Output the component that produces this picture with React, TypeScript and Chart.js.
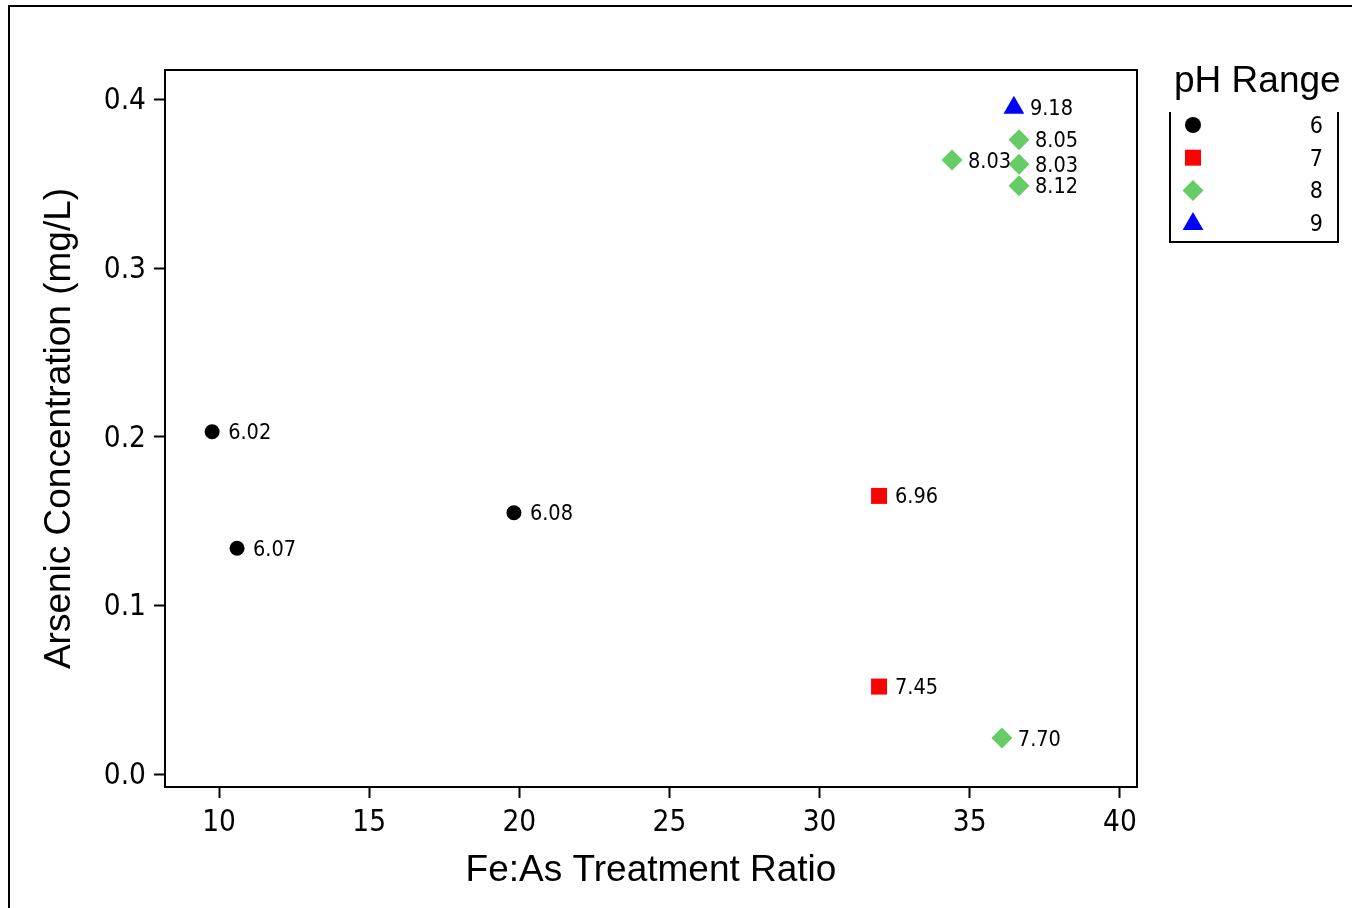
import React, { useEffect, useRef } from 'react';
import { Chart, registerables } from 'chart.js';

Chart.register(...registerables);

// Fe:As treatment ratio vs. residual arsenic, grouped by pH range
const ph6Ratio = [9.77, 10.6, 19.82];
const ph6Arsenic = [0.203, 0.134, 0.155];
const ph6Labels = ['6.02', '6.07', '6.08'];

const ph7Ratio = [31.98, 31.98];
const ph7Arsenic = [0.165, 0.052];
const ph7Labels = ['6.96', '7.45'];

const ph8Ratio = [36.64, 34.41, 36.64, 36.64, 36.07];
const ph8Arsenic = [0.376, 0.364, 0.3616, 0.3488, 0.0215];
const ph8Labels = ['8.05', '8.03', '8.03', '8.12', '7.70'];

const ph9Ratio = [36.47];
const ph9Arsenic = [0.395];
const ph9Labels = ['9.18'];

const groupNames = ['6', '7', '8', '9'];
const groupRatios = [ph6Ratio, ph7Ratio, ph8Ratio, ph9Ratio];
const groupArsenic = [ph6Arsenic, ph7Arsenic, ph8Arsenic, ph9Arsenic];
const groupLabels = [ph6Labels, ph7Labels, ph8Labels, ph9Labels];
const groupColors = ['#000000', '#ff0000', '#66cc66', '#0000ff'];
const groupShapes = ['circle', 'rect', 'rectRot', 'triangle'];
const groupRadii = [7.5, 11.3, 10.5, 12];

const xTickValues = [10, 15, 20, 25, 30, 35, 40];
const yTickValues = [0, 0.1, 0.2, 0.3, 0.4];

const legendTitle = 'pH Range';
const xTitle = 'Fe:As Treatment Ratio';
const yTitle = 'Arsenic Concentration (mg/L)';

const SANS = '"Liberation Sans", Arial, sans-serif';
const COND = '"DejaVu Sans Condensed", "DejaVu Sans", sans-serif';

function drawMarker(ctx: CanvasRenderingContext2D, shape: string, x: number, y: number, r: number) {
  ctx.beginPath();
  if (shape === 'circle') {
    ctx.arc(x, y, r, 0, Math.PI * 2);
  } else if (shape === 'rect') {
    const s = r * Math.SQRT1_2;
    ctx.rect(x - s, y - s, 2 * s, 2 * s);
  } else if (shape === 'rectRot') {
    ctx.moveTo(x - r, y);
    ctx.lineTo(x, y - r);
    ctx.lineTo(x + r, y);
    ctx.lineTo(x, y + r);
  } else {
    ctx.moveTo(x, y - r);
    ctx.lineTo(x + 0.866 * r, y + 0.5 * r);
    ctx.lineTo(x - 0.866 * r, y + 0.5 * r);
  }
  ctx.closePath();
  ctx.fill();
}

const decorPlugin = {
  id: 'decor',
  afterDatasetsDraw(chart: any) {
    const ctx: CanvasRenderingContext2D = chart.ctx;
    const area = chart.chartArea;
    ctx.save();

    // outer frame
    ctx.strokeStyle = '#000';
    ctx.lineWidth = 2;
    ctx.beginPath();
    ctx.moveTo(9, chart.height);
    ctx.lineTo(9, 6);
    ctx.lineTo(chart.width, 6);
    ctx.stroke();

    // plot box
    ctx.strokeRect(area.left, area.top, area.right - area.left, area.bottom - area.top);

    // point value labels
    ctx.fillStyle = '#000';
    ctx.font = `21.5px ${COND}`;
    ctx.textAlign = 'left';
    ctx.textBaseline = 'middle';
    chart.data.datasets.forEach((ds: any, di: number) => {
      const meta = chart.getDatasetMeta(di);
      meta.data.forEach((pt: any, i: number) => {
        ctx.fillText(groupLabels[di][i], pt.x + 16, pt.y + 2);
      });
    });

    // legend
    const boxLeft = 1170;
    const boxRight = 1338;
    const boxTop = 112;
    const boxBottom = 242;
    ctx.fillStyle = '#000';
    ctx.font = `37px ${SANS}`;
    ctx.textAlign = 'left';
    ctx.textBaseline = 'alphabetic';
    ctx.fillText(legendTitle, 1174, 92);

    ctx.beginPath();
    ctx.moveTo(boxLeft, boxTop);
    ctx.lineTo(boxLeft, boxBottom);
    ctx.lineTo(boxRight, boxBottom);
    ctx.lineTo(boxRight, boxTop);
    ctx.stroke();

    ctx.font = `23px ${COND}`;
    ctx.textAlign = 'right';
    ctx.textBaseline = 'middle';
    groupNames.forEach((name, i) => {
      const y = 125 + i * 32.7;
      ctx.fillStyle = groupColors[i];
      const r = groupShapes[i] === 'circle' ? 8 : groupRadii[i];
      drawMarker(ctx, groupShapes[i], 1193, groupShapes[i] === 'triangle' ? y + 1 : y, r);
      ctx.fillStyle = '#000';
      ctx.fillText(name, 1323, y + 2);
    });

    ctx.restore();
  },
};

export default function App() {
  const canvasRef = useRef<HTMLCanvasElement | null>(null);

  useEffect(() => {
    const canvas = canvasRef.current;
    if (!canvas) return;
    const datasets = groupNames.map((name, i) => ({
      label: name,
      data: groupRatios[i].map((x, j) => ({ x, y: groupArsenic[i][j] })),
      backgroundColor: groupColors[i],
      borderColor: groupColors[i],
      borderWidth: 0,
      pointStyle: groupShapes[i],
      pointRadius: groupRadii[i],
      pointHoverRadius: groupRadii[i],
    }));

    const chart = new Chart(canvas, {
      type: 'scatter',
      data: { datasets } as any,
      options: {
        responsive: false,
        animation: false,
        events: [],
        layout: { padding: { left: 0, top: 70, right: 215, bottom: 0 } },
        plugins: {
          legend: { display: false },
          tooltip: { enabled: false },
        },
        scales: {
          x: {
            type: 'linear',
            min: 8.2,
            max: 40.57,
            afterBuildTicks: (scale: any) => {
              scale.ticks = xTickValues.map((v) => ({ value: v }));
            },
            afterFit: (scale: any) => {
              scale.height = 121;
            },
            grid: {
              display: true,
              drawOnChartArea: false,
              drawTicks: true,
              tickLength: 11,
              tickColor: '#000',
              tickWidth: 2,
            },
            border: { display: false },
            ticks: {
              color: '#000',
              padding: 8,
              maxRotation: 0,
              autoSkip: false,
              font: { family: COND, size: 29.5 },
              callback: (v: any) => String(v),
            },
            title: {
              display: true,
              text: xTitle,
              color: '#000',
              font: { family: SANS, size: 37 },
              padding: { top: 0, bottom: 15 },
            },
          },
          y: {
            type: 'linear',
            min: -0.0075,
            max: 0.4174,
            afterBuildTicks: (scale: any) => {
              scale.ticks = yTickValues.map((v) => ({ value: v }));
            },
            afterFit: (scale: any) => {
              scale.width = 165;
            },
            grid: {
              display: true,
              drawOnChartArea: false,
              drawTicks: true,
              tickLength: 11,
              tickColor: '#000',
              tickWidth: 2,
            },
            border: { display: false },
            ticks: {
              color: '#000',
              padding: 8,
              labelOffset: 2,
              autoSkip: false,
              font: { family: COND, size: 29.5 },
              callback: (v: any) => Number(v).toFixed(1),
            },
            title: {
              display: true,
              text: yTitle,
              color: '#000',
              font: { family: SANS, size: 37 },
              padding: { top: 38, bottom: 0 },
            },
          },
        },
      } as any,
      plugins: [decorPlugin],
    });

    return () => {
      chart.destroy();
    };
  }, []);

  return (
    <div style={{ position: 'fixed', left: 0, top: 0, width: 1352, height: 908, background: '#fff' }}>
      <canvas ref={canvasRef} width={1352} height={908} style={{ display: 'block', width: 1352, height: 908 }} />
    </div>
  );
}
